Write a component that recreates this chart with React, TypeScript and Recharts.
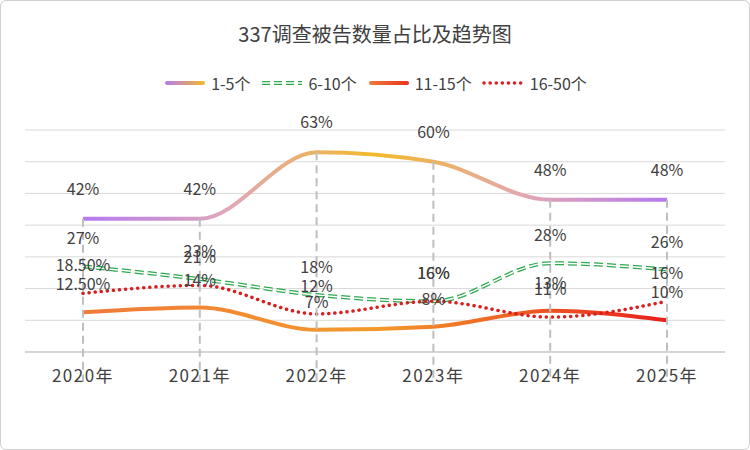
import { LineChart, Line, XAxis, YAxis, CartesianGrid, LabelList } from "recharts"

const years = ["2020年", "2021年", "2022年", "2023年", "2024年", "2025年"]
const s1to5 = [42, 42, 63, 60, 48, 48]
const s6to10 = [27, 23, 18, 16, 28, 26]
const s11to15 = [12.5, 14, 7, 8, 13, 10]
const s16to50 = [18.5, 21, 12, 16, 11, 16]

const data = years.map((y, i) => ({
  year: y,
  a: s1to5[i],
  b: s6to10[i],
  c: s11to15[i],
  d: s16to50[i],
}))

const PLOT_BOTTOM = 381
const fmt = (v: any) => (Number.isInteger(v) ? `${v}%` : `${Number(v).toFixed(2)}%`)

const DropDot = (props: any) => {
  const { cx, cy } = props
  if (cx == null) return null
  return <line x1={cx} y1={cy} x2={cx} y2={PLOT_BOTTOM} stroke="#bfbfbf" strokeWidth={2} strokeDasharray="8 5" />
}

const legendItems = [
  { name: "1-5个", el: <rect x={2} y={6} width={40} height={4} rx={2} fill="url(#lg1)" /> },
  {
    name: "6-10个",
    el: (
      <g>
        <line x1={2} y1={8} x2={42} y2={8} stroke="#2ea84f" strokeWidth={4} strokeDasharray="8 4" />
        <line x1={2} y1={8} x2={42} y2={8} stroke="#fff" strokeWidth={1.5} strokeDasharray="8 4" />
      </g>
    ),
  },
  { name: "11-15个", el: <rect x={2} y={6} width={40} height={4} rx={2} fill="url(#lg2)" /> },
  { name: "16-50个", el: <line x1={2} y1={8} x2={42} y2={8} stroke="#d91e1e" strokeWidth={3.5} strokeDasharray="0.1 6" strokeLinecap="round" /> },
]

const CustomLegend = () => (
  <div style={{ position: "absolute", top: 70, width: "100%", display: "flex", justifyContent: "center", gap: 10, fontSize: 16, color: "#404040" }}>
    <svg width={0} height={0} style={{ position: "absolute" }}>
      <defs>
        <linearGradient id="lg1" x1="0" x2="1">
          <stop offset="0" stopColor="#b57af0" />
          <stop offset="1" stopColor="#f2b92a" />
        </linearGradient>
        <linearGradient id="lg2" x1="0" x2="1">
          <stop offset="0" stopColor="#f07a3a" />
          <stop offset="1" stopColor="#e8341c" />
        </linearGradient>
      </defs>
    </svg>
    {legendItems.map((it) => (
      <div key={it.name} style={{ display: "flex", alignItems: "center", gap: 4 }}>
        <svg width={44} height={16}>{it.el}</svg>
        <span>{it.name}</span>
      </div>
    ))}
  </div>
)

const labelStyle = { fill: "#404040", fontSize: 16 }

export default function App() {
  return (
    <div style={{ position: "absolute", left: 0, top: 0, width: 748, height: 448, border: "1px solid #d0d0d0", borderRadius: 6, background: "#fff", fontFamily: "'Noto Sans CJK SC', 'Noto Sans', sans-serif" }}>
      <div style={{ position: "absolute", top: 18, width: "100%", textAlign: "center", fontSize: 20, color: "#404040" }}>337调查被告数量占比及趋势图</div>
      <CustomLegend />
      <LineChart width={748} height={448} data={data} margin={{ top: 129, right: 24, left: 24, bottom: 67 }}>
        <defs>
          <linearGradient id="line1" x1="0" x2="1" y1="0" y2="0">
            <stop offset="0" stopColor="#b57af0" />
            <stop offset="0.25" stopColor="#e0a8b8" />
            <stop offset="0.5" stopColor="#f2b92a" />
            <stop offset="0.75" stopColor="#e4a8b0" />
            <stop offset="1" stopColor="#b57af0" />
          </linearGradient>
          <linearGradient id="line3" x1="0" x2="1" y1="0" y2="0">
            <stop offset="0" stopColor="#f07a3a" />
            <stop offset="0.5" stopColor="#f39a2a" />
            <stop offset="1" stopColor="#e8201c" />
          </linearGradient>
        </defs>
        <CartesianGrid vertical={false} stroke="#d9d9d9" />
        <XAxis dataKey="year" padding={{ left: 58, right: 58 }} tickLine={false} axisLine={{ stroke: "#bfbfbf" }} tick={{ fill: "#404040", fontSize: 17, letterSpacing: 1.5 }} tickMargin={12} />
        <YAxis hide domain={[0, 70]} ticks={[0, 10, 20, 30, 40, 50, 60, 70]} />
        <Line type="monotone" dataKey="a" stroke="url(#line1)" strokeWidth={4} dot={<DropDot />} activeDot={false} isAnimationActive={false}>
          <LabelList dataKey="a" position="top" offset={24} formatter={fmt} style={labelStyle} />
        </Line>
        <Line type="monotone" dataKey="b" stroke="#2ea84f" strokeWidth={4} strokeDasharray="9 4" dot={false} isAnimationActive={false}>
          <LabelList dataKey="b" position="top" offset={22} formatter={fmt} style={labelStyle} />
        </Line>
        <Line type="monotone" dataKey="b" stroke="#fff" strokeWidth={1.5} strokeDasharray="9 4" dot={false} isAnimationActive={false} />
        <Line type="monotone" dataKey="c" stroke="url(#line3)" strokeWidth={4} dot={false} isAnimationActive={false}>
          <LabelList dataKey="c" position="top" offset={22} formatter={fmt} style={labelStyle} />
        </Line>
        <Line type="monotone" dataKey="d" stroke="#d91e1e" strokeWidth={3.5} strokeDasharray="0.1 6" strokeLinecap="round" dot={false} isAnimationActive={false}>
          <LabelList dataKey="d" position="top" offset={22} formatter={fmt} style={labelStyle} />
        </Line>
      </LineChart>
    </div>
  )
}
